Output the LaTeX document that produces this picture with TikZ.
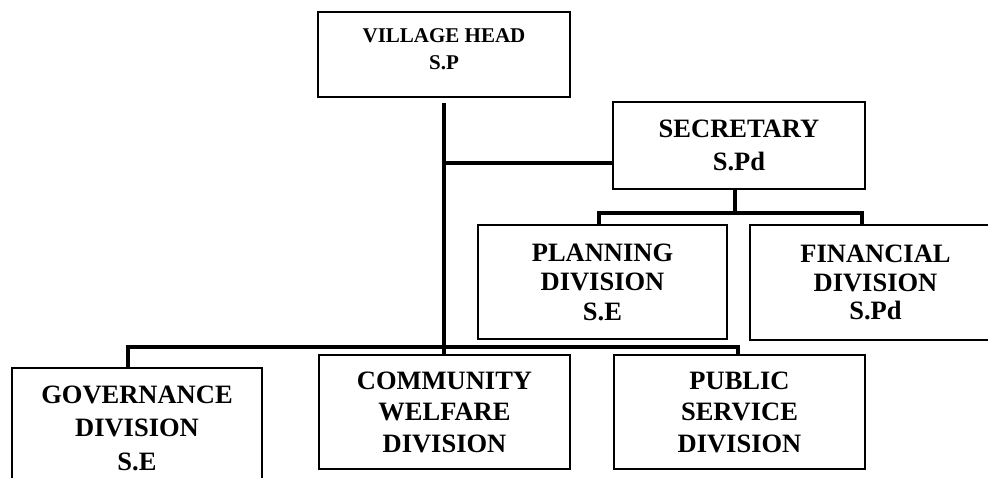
\documentclass[tikz,border=0pt]{standalone}
\usepackage{fontspec}
\setmainfont{Liberation Serif}
\begin{document}
\begin{tikzpicture}[x=1pt,y=-1pt,
  box/.style={draw,line width=1.3pt,rectangle,inner sep=0pt,align=center,
    font={\fontsize{26.5pt}{31.5pt}\selectfont\bfseries}},
  conn/.style={line width=3.3pt}]
\useasboundingbox (0,0) rectangle (988,477);
\clip (0,0) rectangle (988,477);
\node[box,minimum width=252pt,minimum height=85pt,
  font={\fontsize{21pt}{27pt}\selectfont\bfseries}] (vh) at (444,54.5)
  {VILLAGE HEAD\\S.P\rule[-10pt]{0pt}{0pt}};
\node[box,minimum width=252pt,minimum height=87pt,
  font={\fontsize{26.5pt}{33pt}\selectfont\bfseries}] (sec) at (739,145.5)
  {SECRETARY\\S.Pd};
\node[box,minimum width=249pt,minimum height=114pt,
  font={\fontsize{26.5pt}{29.5pt}\selectfont\bfseries}] (plan) at (602.5,282)
  {PLANNING\\DIVISION\\S.E};
\node[box,minimum width=251pt,minimum height=115pt,
  font={\fontsize{26.5pt}{28.5pt}\selectfont\bfseries}] (fin) at (875.5,282.5)
  {FINANCIAL\\DIVISION\\S.Pd};
\node[box,minimum width=250pt,minimum height=120pt,
  font={\fontsize{26.5pt}{33.5pt}\selectfont\bfseries}] (gov) at (137,428)
  {GOVERNANCE\\DIVISION\\S.E};
\node[box,minimum width=251pt,minimum height=114pt] (com) at (444.5,412)
  {COMMUNITY\\WELFARE\\DIVISION};
\node[box,minimum width=251pt,minimum height=114pt] (pub) at (739.5,412)
  {PUBLIC\\SERVICE\\DIVISION};
\coordinate (tap) at (0,163);
\coordinate (sbL) at (599,213);
\coordinate (sbR) at (862,213);
\coordinate (mbL) at (128,347);
\coordinate (mbR) at (738,347);
\draw[conn] ([yshift=-5pt]vh.south) -- (vh.south |- com.north);
\draw[conn] (vh.south |- tap) -- (sec.west |- tap);
\draw[conn] ([xshift=-4pt]sec.south) -- ([xshift=-4pt]sec.south |- sbL);
\draw[conn] (sbL |- plan.north) -- (sbL) -- (sbR) -- (sbR |- fin.north);
\draw[conn] (mbL |- gov.north) -- (mbL) -- (mbR) -- (mbR |- pub.north);
\end{tikzpicture}
\end{document}
